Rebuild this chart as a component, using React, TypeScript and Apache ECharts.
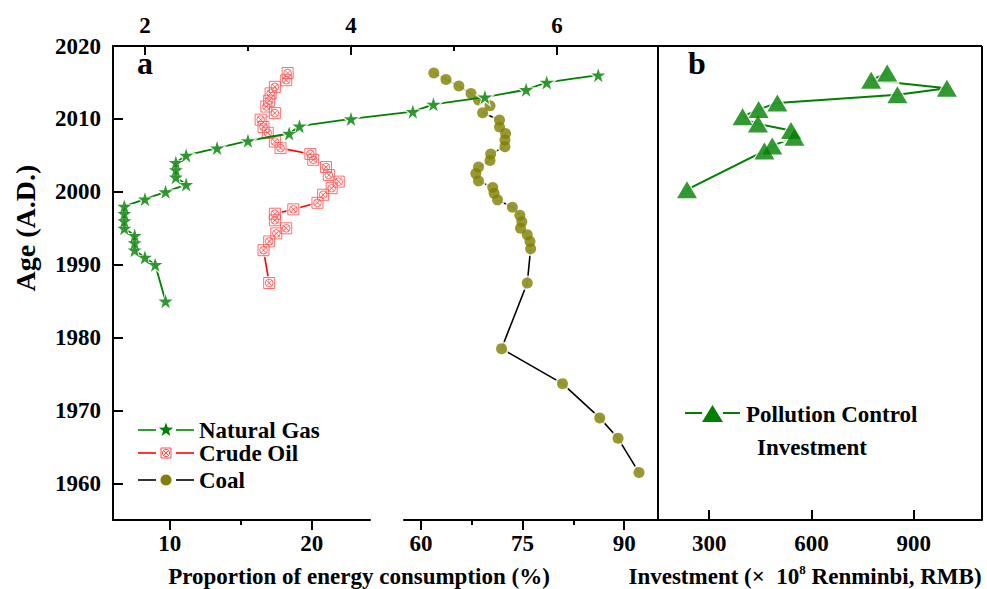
import React, { useEffect, useRef } from "react";
import * as echarts from "echarts";

// ---------- data ----------
const gasAge = [1985, 1990, 1991, 1992, 1993, 1994, 1995, 1996, 1997, 1998, 1999, 2000, 2001, 2002, 2003, 2004, 2005, 2006, 2007, 2008, 2009, 2010, 2011, 2012, 2013, 2014, 2015, 2016];
const gasValue = [2.2, 2.1, 2.0, 1.9, 1.9, 1.9, 1.8, 1.8, 1.8, 1.8, 2.0, 2.2, 2.4, 2.3, 2.3, 2.3, 2.4, 2.7, 3.0, 3.4, 3.5, 4.0, 4.6, 4.8, 5.3, 5.7, 5.9, 6.4];

const oilAge = [1987.5, 1992.0, 1993.2, 1994.3, 1995.0, 1996.1, 1997.0, 1997.6, 1998.5, 1999.6, 2000.5, 2001.4, 2002.3, 2003.4, 2004.4, 2005.2, 2006.0, 2006.9, 2008.1, 2008.9, 2009.9, 2010.8, 2011.7, 2012.5, 2013.5, 2014.4, 2015.3, 2016.3];
const oilValue = [17.0, 16.6, 17.0, 17.5, 18.2, 17.4, 17.4, 18.7, 20.4, 20.8, 21.4, 21.9, 21.2, 21.0, 20.1, 19.9, 17.8, 17.4, 16.9, 16.6, 16.4, 17.4, 16.8, 17.0, 17.1, 17.4, 18.2, 18.3];

const coalAge = [1961.5, 1966.2, 1969.0, 1973.7, 1978.5, 1987.5, 1992.2, 1993.2, 1994.1, 1995.0, 1995.9, 1996.8, 1997.9, 1998.9, 1999.8, 2000.6, 2001.5, 2002.5, 2003.4, 2004.3, 2005.2, 2006.2, 2007.1, 2008.0, 2008.9, 2009.85, 2010.85, 2011.8, 2012.6, 2013.5, 2014.5, 2015.4, 2016.3];
const coalValue = [92.2, 89.1, 86.4, 80.9, 71.9, 75.7, 76.2, 76.1, 75.7, 74.7, 74.9, 74.6, 73.5, 71.3, 70.8, 70.6, 68.5, 68.1, 68.5, 70.2, 70.3, 72.4, 72.4, 72.5, 71.6, 71.6, 69.1, 70.2, 68.5, 67.4, 65.6, 63.7, 61.9];

const investAge = [2000.3, 2005.6, 2006.3, 2007.5, 2008.4, 2009.3, 2010.3, 2011.3, 2012.2, 2013.3, 2014.2, 2015.3, 2016.3];
const investValue = [235, 462, 485, 550, 540, 443, 398, 445, 500, 852, 997, 775, 822];

const yTicks = [1960, 1970, 1980, 1990, 2000, 2010, 2020];
const topTicks = [2, 4, 6];
const topMinor = [3, 5];
const oilTicks = [10, 20];
const oilMinor = [15];
const coalTicks = [60, 75, 90];
const coalMinor = [67.5, 82.5];
const investTicks = [300, 600, 900];

const seriesNames = ["Natural Gas", "Crude Oil", "Coal"];
const investName = ["Pollution Control", "Investment"];

// ---------- layout & styles ----------
const FONT = '"Liberation Serif", "Times New Roman", serif';
const txt = () => ({ fontFamily: FONT, fontWeight: "bold" as const, color: "#000", fontSize: 23 });
const GREEN = "#008000";
const OLIVE = "#808000";
const RED = "#ff0000";
const PINK = "#ff4a4a";
const STAR = "path://M50,0L61.2,34.5L97.6,34.5L68.2,55.9L79.4,90.5L50,69.1L20.6,90.5L31.8,55.9L2.4,34.5L38.8,34.5Z";
const OILSYM = "path://M0,0L20,0L20,20L0,20Z M3,10A7,7,0,1,0,17,10A7,7,0,1,0,3,10Z M5,5L15,15 M15,5L5,15";

const W = 987, H = 589;
const PA_L = 113, PA_R = 658, P_T = 46, P_B = 520, PB_R = 982;
const OIL_R = 370, COAL_L = 404;

const X_GAS: [number, number] = [1.69, 6.98];
const X_OIL: [number, number] = [6, 24.1];
const X_COAL: [number, number] = [57.5, 95];
const X_INV: [number, number] = [150, 1100];
const Y_MIN = 1955;
const Y_MAX = 2020;

const pair = (xs: number[], ys: number[]) => xs.map((v, i) => [v, ys[i]]);
const plain = (v: number) => String(v);

function starPts(cx: number, cy: number, R: number) {
  const pts: number[][] = [];
  for (let i = 0; i < 10; i++) {
    const r = i % 2 === 0 ? R : R * 0.4;
    const a = -Math.PI / 2 + (i * Math.PI) / 5;
    pts.push([cx + r * Math.cos(a), cy + r * Math.sin(a)]);
  }
  return pts;
}

const frameLine = () => ({ show: true, lineStyle: { color: "#000", width: 2 } });
const tickStyle = () => ({ color: "#000", width: 2 });

// pixel lengths expressed in each axis' data units
const gasPerPx = (X_GAS[1] - X_GAS[0]) / (PA_R - PA_L);
const yearPerPx = (Y_MAX - Y_MIN) / (P_B - P_T);

// frame edges + inside ticks of panel a (top / left), drawn as mark lines in the gas coordinate system
function frameA() {
  const seg = (x1: number, y1: number, x2: number, y2: number) => [{ coord: [x1, y1] }, { coord: [x2, y2] }];
  return [
    seg(X_GAS[0], Y_MAX, X_GAS[1], Y_MAX),
    seg(X_GAS[0], Y_MAX, X_GAS[0], Y_MIN),
    ...yTicks.map((v) => seg(X_GAS[0], v, X_GAS[0] + 10 * gasPerPx, v)),
    ...topTicks.map((v) => seg(v, Y_MAX, v, Y_MAX - 9 * yearPerPx)),
    ...topMinor.map((v) => seg(v, Y_MAX, v, Y_MAX - 5 * yearPerPx)),
  ];
}
function frameB() {
  const seg = (x1: number, y1: number, x2: number, y2: number) => [{ coord: [x1, y1] }, { coord: [x2, y2] }];
  return [
    seg(X_INV[0], Y_MAX, X_INV[1], Y_MAX),
    seg(X_INV[1], Y_MAX, X_INV[1], Y_MIN),
  ];
}
const markFrame = (data: any[]) => ({
  silent: true, symbol: ["none", "none"], animation: false,
  label: { show: false }, emphasis: { disabled: true },
  lineStyle: { color: "#000", width: 2, type: "solid" },
  data,
});

function graphics(): any[] {
  const legendRow = (y: number, color: string, marker: any, label: string) => [
    { type: "line", shape: { x1: 138, y1: y, x2: 156, y2: y }, style: { stroke: color, lineWidth: 1.6 } },
    { type: "line", shape: { x1: 176, y1: y, x2: 194, y2: y }, style: { stroke: color, lineWidth: 1.6 } },
    marker,
    { type: "text", x: 199, y, style: { text: label, fontFamily: FONT, fontWeight: "bold", fontSize: 23, fill: "#000", verticalAlign: "middle", align: "left" } },
  ];
  return [
    { type: "text", x: 145, y: 63, style: { text: "a", fontFamily: FONT, fontWeight: "bold", fontSize: 32, fill: "#000", align: "center", verticalAlign: "middle" } },
    { type: "text", x: 697, y: 63, style: { text: "b", fontFamily: FONT, fontWeight: "bold", fontSize: 32, fill: "#000", align: "center", verticalAlign: "middle" } },
    ...legendRow(430, GREEN, { type: "polygon", shape: { points: starPts(166, 430, 7.5) }, style: { fill: GREEN } }, seriesNames[0]),
    ...legendRow(453, RED, {
      type: "group", x: 166, y: 453, children: [
        { type: "rect", shape: { x: -5, y: -5, width: 10, height: 10 }, style: { fill: "none", stroke: PINK, lineWidth: 1 } },
        { type: "circle", shape: { cx: 0, cy: 0, r: 3.6 }, style: { fill: "none", stroke: PINK, lineWidth: 1 } },
        { type: "line", shape: { x1: -2.6, y1: -2.6, x2: 2.6, y2: 2.6 }, style: { stroke: PINK, lineWidth: 1 } },
        { type: "line", shape: { x1: 2.6, y1: -2.6, x2: -2.6, y2: 2.6 }, style: { stroke: PINK, lineWidth: 1 } },
      ],
    }, seriesNames[1]),
    ...legendRow(480, "#000", { type: "circle", shape: { cx: 166, cy: 480, r: 5.5 }, style: { fill: OLIVE } }, seriesNames[2]),
    { type: "line", shape: { x1: 685, y1: 413, x2: 702, y2: 413 }, style: { stroke: GREEN, lineWidth: 2 } },
    { type: "line", shape: { x1: 723, y1: 413, x2: 740, y2: 413 }, style: { stroke: GREEN, lineWidth: 2 } },
    { type: "polygon", shape: { points: [[712.5, 405], [723, 422], [702, 422]] }, style: { fill: GREEN } },
    { type: "text", x: 746, y: 414, style: { text: investName[0], fontFamily: FONT, fontWeight: "bold", fontSize: 23, fill: "#000", verticalAlign: "middle" } },
    { type: "text", x: 757, y: 447, style: { text: investName[1], fontFamily: FONT, fontWeight: "bold", fontSize: 23, fill: "#000", verticalAlign: "middle" } },
    { type: "text", x: 25, y: 228, rotation: Math.PI / 2, style: { text: "Age (A.D.)", fontFamily: FONT, fontWeight: "bold", fontSize: 28, fill: "#000", align: "center", verticalAlign: "middle" } },
    { type: "text", x: 359, y: 576, style: { text: "Proportion of energy consumption (%)", fontFamily: FONT, fontWeight: "bold", fontSize: 23, fill: "#000", align: "center", verticalAlign: "middle" } },
    {
      type: "text", x: 805, y: 576, style: {
        text: "{t|Investment (×  10}{s|8}{t| Renminbi, RMB)}", align: "center", verticalAlign: "middle",
        rich: {
          t: { fontFamily: FONT, fontWeight: "bold", fontSize: 23, fill: "#000", lineHeight: 26 },
          s: { fontFamily: FONT, fontWeight: "bold", fontSize: 13, fill: "#000", verticalAlign: "top", lineHeight: 14 },
        },
      },
    },
  ];
}

function buildOption() {
  const hiddenY = (g: number) => ({ type: "value", gridIndex: g, min: Y_MIN, max: Y_MAX, show: false });
  const gasData = pair(gasValue, gasAge);
  const oilData = pair(oilValue, oilAge);
  const coalData = pair(coalValue, coalAge);
  const invData = pair(investValue, investAge);
  const vb = { top: P_T, bottom: H - P_B };

  return {
    animation: false,
    backgroundColor: "#fff",
    grid: [
      { left: PA_L, right: W - PA_R, ...vb },
      { left: PA_L, right: W - OIL_R, ...vb },
      { left: COAL_L, right: W - PA_R, ...vb },
      { left: PA_R, right: W - PB_R, ...vb },
    ],
    xAxis: [
      {
        type: "value", gridIndex: 0, position: "top", min: X_GAS[0], max: X_GAS[1],
        axisLine: frameLine(),
        axisTick: { show: true, inside: true, length: 9, customValues: topTicks, lineStyle: tickStyle() },
        axisLabel: { show: true, customValues: topTicks, margin: 9, formatter: plain, ...txt() },
        splitLine: { show: false },
      },
      {
        type: "value", gridIndex: 1, position: "bottom", min: X_OIL[0], max: X_OIL[1],
        axisLine: frameLine(),
        axisTick: { show: true, inside: false, length: 10, customValues: oilTicks, lineStyle: tickStyle() },
        axisLabel: { show: true, customValues: oilTicks, margin: 12, formatter: plain, ...txt() },
        splitLine: { show: false },
      },
      {
        type: "value", gridIndex: 1, position: "bottom", min: X_OIL[0], max: X_OIL[1],
        axisLine: { show: false },
        axisTick: { show: true, inside: false, length: 5, customValues: oilMinor, lineStyle: tickStyle() },
        axisLabel: { show: false }, splitLine: { show: false },
      },
      {
        type: "value", gridIndex: 2, position: "bottom", min: X_COAL[0], max: X_COAL[1],
        axisLine: frameLine(),
        axisTick: { show: true, inside: false, length: 10, customValues: coalTicks, lineStyle: tickStyle() },
        axisLabel: { show: true, customValues: coalTicks, margin: 12, formatter: plain, ...txt() },
        splitLine: { show: false },
      },
      {
        type: "value", gridIndex: 2, position: "bottom", min: X_COAL[0], max: X_COAL[1],
        axisLine: { show: false },
        axisTick: { show: true, inside: false, length: 5, customValues: coalMinor, lineStyle: tickStyle() },
        axisLabel: { show: false }, splitLine: { show: false },
      },
      {
        type: "value", gridIndex: 3, position: "bottom", min: X_INV[0], max: X_INV[1],
        axisLine: frameLine(),
        axisTick: { show: true, inside: true, length: 10, customValues: investTicks, lineStyle: tickStyle() },
        axisLabel: { show: true, customValues: investTicks, margin: 12, formatter: plain, ...txt() },
        splitLine: { show: false },
      },
    ],
    yAxis: [
      {
        type: "value", gridIndex: 0, position: "left", min: Y_MIN, max: Y_MAX,
        axisLine: frameLine(),
        axisTick: { show: true, inside: true, length: 10, customValues: yTicks, lineStyle: tickStyle() },
        axisLabel: { show: true, customValues: yTicks, margin: 12, formatter: plain, ...txt() },
        splitLine: { show: false },
      },
      hiddenY(1),
      hiddenY(2),
      {
        type: "value", gridIndex: 3, position: "left", min: Y_MIN, max: Y_MAX,
        axisLine: frameLine(), axisTick: { show: false }, axisLabel: { show: false }, splitLine: { show: false },
      },
    ],
    series: [
      // coal
      { name: "Coal", type: "line", xAxisIndex: 3, yAxisIndex: 2, data: coalData, symbol: "none", clip: false, lineStyle: { color: "#000", width: 1.6 }, z: 2 },
      { type: "scatter", xAxisIndex: 3, yAxisIndex: 2, data: coalData, symbol: "circle", symbolSize: 15, itemStyle: { color: "#fff" }, clip: false, z: 3, silent: true },
      { type: "scatter", xAxisIndex: 3, yAxisIndex: 2, data: coalData, symbol: "circle", symbolSize: 11, itemStyle: { color: OLIVE }, clip: false, z: 4 },
      // crude oil
      { name: "Crude Oil", type: "line", xAxisIndex: 1, yAxisIndex: 1, data: oilData, symbol: "none", clip: false, lineStyle: { color: RED, width: 1.6 }, z: 5 },
      { type: "scatter", xAxisIndex: 1, yAxisIndex: 1, data: oilData, symbol: "rect", symbolSize: 14, itemStyle: { color: "#fff" }, clip: false, z: 6, silent: true },
      { type: "scatter", xAxisIndex: 1, yAxisIndex: 1, data: oilData, symbol: OILSYM, symbolSize: 11, itemStyle: { color: "rgba(255,255,255,0)", borderColor: PINK, borderWidth: 1 }, clip: false, z: 7 },
      // natural gas (its mark lines carry the top / left frame of panel a)
      { name: "Natural Gas", type: "line", xAxisIndex: 0, yAxisIndex: 0, data: gasData, symbol: "none", clip: false, lineStyle: { color: GREEN, width: 1.8 }, z: 8, markLine: markFrame(frameA()) },
      { type: "scatter", xAxisIndex: 0, yAxisIndex: 0, data: gasData, symbol: STAR, symbolSize: 21, itemStyle: { color: "#fff" }, clip: false, z: 9, silent: true },
      { type: "scatter", xAxisIndex: 0, yAxisIndex: 0, data: gasData, symbol: STAR, symbolSize: 14, itemStyle: { color: GREEN }, clip: false, z: 10 },
      // investment (its mark lines carry the top / right frame of panel b)
      { name: "Pollution Control Investment", type: "line", xAxisIndex: 5, yAxisIndex: 3, data: invData, symbol: "none", clip: false, lineStyle: { color: GREEN, width: 2 }, z: 2, markLine: markFrame(frameB()) },
      { type: "scatter", xAxisIndex: 5, yAxisIndex: 3, data: invData, symbol: "triangle", symbolSize: [26, 23], itemStyle: { color: "#fff" }, clip: false, z: 3, silent: true },
      { type: "scatter", xAxisIndex: 5, yAxisIndex: 3, data: invData, symbol: "triangle", symbolSize: [20, 17], itemStyle: { color: GREEN }, clip: false, z: 4 },
    ],
    graphic: graphics(),
  };
}

export default function App() {
  const ref = useRef<HTMLDivElement>(null);
  useEffect(() => {
    document.body.style.margin = "0";
    const chart = echarts.init(ref.current!, null, { renderer: "svg" });
    chart.setOption(buildOption() as any);
    return () => chart.dispose();
  }, []);
  return <div ref={ref} style={{ width: W, height: H }} />;
}
